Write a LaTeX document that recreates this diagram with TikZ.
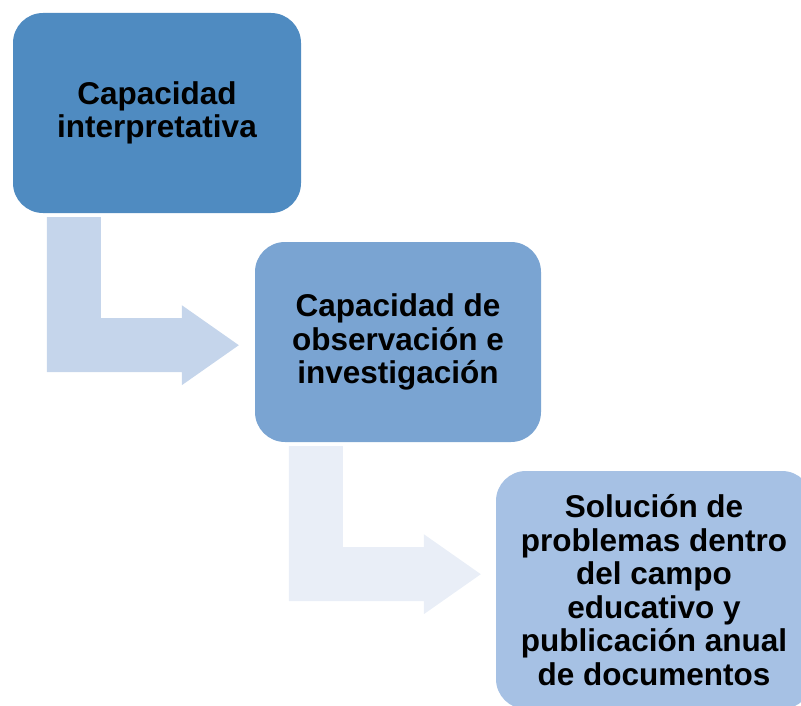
\documentclass[tikz,border=0pt]{standalone}
\usepackage{fontspec}
\setmainfont{Liberation Sans}
\usetikzlibrary{calc}
\definecolor{stepOne}{RGB}{79, 139, 193}
\definecolor{stepTwo}{RGB}{122, 164, 210}
\definecolor{stepThree}{RGB}{166, 193, 228}
\definecolor{arrowOne}{RGB}{197, 213, 235}
\definecolor{arrowTwo}{RGB}{233, 238, 247}
\tikzset{
    stepbox/.style={rounded corners=30pt, inner sep=0pt, align=center,
        font=\bfseries\fontsize{31.5}{33.5}\selectfont},
}
% bent block arrow hanging below a box
\newcommand{\bentarrow}[2]{%
    \fill[#2] ($(#1.south west)+(34,4)$) -- ($(#1.south west)+(88,4)$)
        -- ($(#1.south west)+(88,105)$) -- ($(#1.south west)+(169,105)$)
        -- ($(#1.south west)+(169,92)$) -- ($(#1.south west)+(226,132)$)
        -- ($(#1.south west)+(169,172)$) -- ($(#1.south west)+(169,159)$)
        -- ($(#1.south west)+(34,159)$) -- cycle;
}
\begin{document}
\begin{tikzpicture}[x=1pt, y=-1pt]
\useasboundingbox (0,0) rectangle (801,706);
\clip (0,0) rectangle (801,706);
% Steps
\node[stepbox, fill=stepOne, minimum width=288pt, minimum height=200pt] (interp) at (157,113)
    {Capacidad\\interpretativa};
\node[stepbox, fill=stepTwo, minimum width=286pt, minimum height=200pt] (observ) at (398,342)
    {Capacidad de\\observación e\\investigación};
\node[stepbox, fill=stepThree, minimum width=316pt, minimum height=238pt] (solucion) at (654,590)
    {Solución de\\problemas dentro\\del campo\\educativo y\\publicación anual\\de documentos};
% Arrows between steps
\bentarrow{interp}{arrowOne}
\bentarrow{observ}{arrowTwo}
\end{tikzpicture}
\end{document}
